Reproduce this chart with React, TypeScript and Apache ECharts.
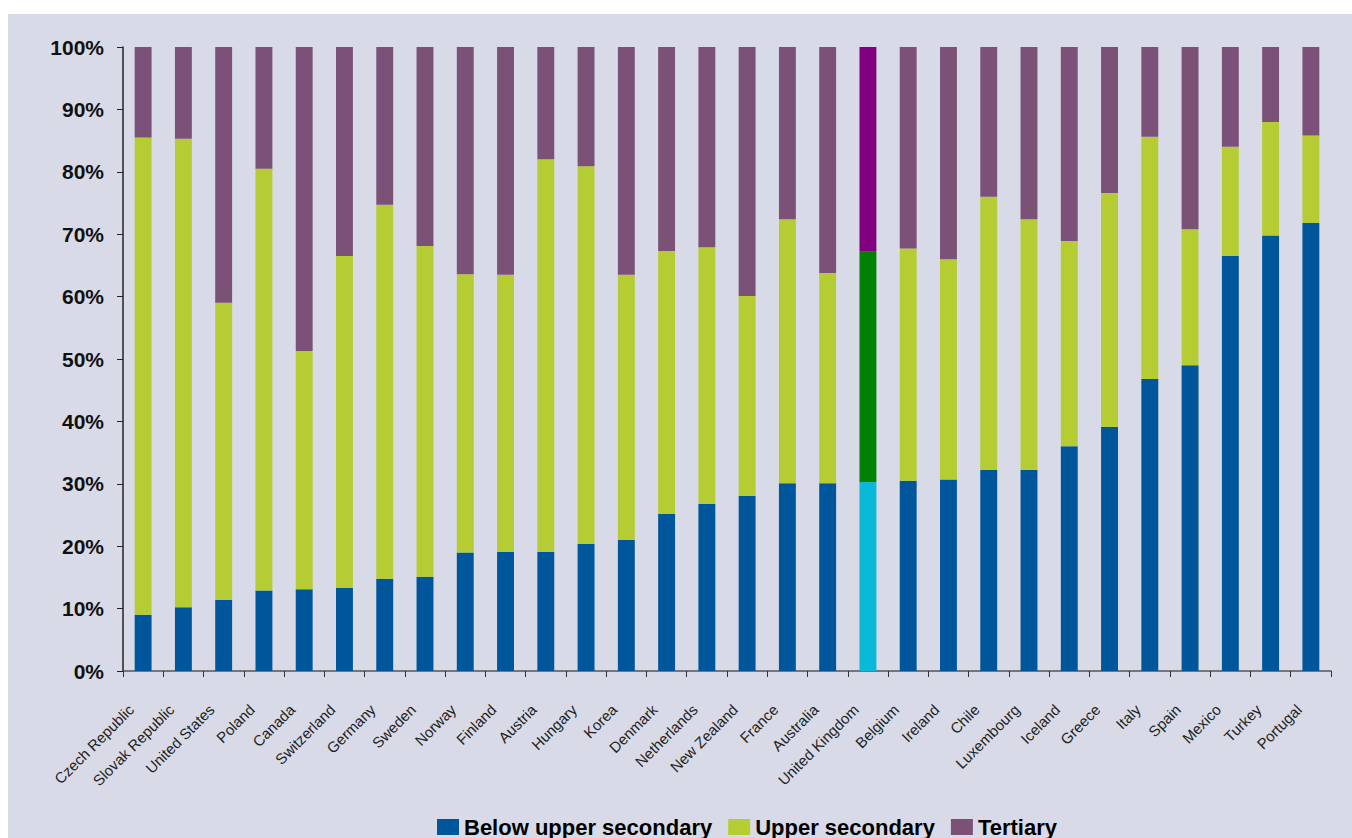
import React, { useEffect, useRef } from "react";
import * as echarts from "echarts";

const countries = [
  "Czech Republic", "Slovak Republic", "United States", "Poland", "Canada", "Switzerland",
  "Germany", "Sweden", "Norway", "Finland", "Austria", "Hungary", "Korea", "Denmark",
  "Netherlands", "New Zealand", "France", "Australia", "United Kingdom", "Belgium",
  "Ireland", "Chile", "Luxembourg", "Iceland", "Greece", "Italy", "Spain", "Mexico",
  "Turkey", "Portugal",
];

// share below upper secondary (%)
const belowUpperSecondary = [
  9.0, 10.2, 11.4, 12.9, 13.1, 13.3, 14.8, 15.1, 19.0, 19.1, 19.1, 20.4, 21.0, 25.2,
  26.8, 28.1, 30.1, 30.1, 30.3, 30.5, 30.7, 32.2, 32.2, 36.0, 39.1, 46.8, 49.0, 66.5,
  69.8, 71.8,
];

// share upper secondary (%)
const upperSecondary = [
  76.5, 75.1, 47.6, 67.6, 38.2, 53.2, 59.9, 53.0, 44.6, 44.4, 62.9, 60.5, 42.5, 42.1,
  41.1, 32.0, 42.3, 33.7, 36.9, 37.2, 35.3, 43.8, 40.2, 32.9, 37.5, 38.8, 21.8, 17.5,
  18.2, 14.0,
];

// share tertiary (%)
const tertiary = [
  14.5, 14.7, 41.0, 19.5, 48.7, 33.5, 25.3, 31.9, 36.4, 36.5, 18.0, 19.1, 36.5, 32.7,
  32.1, 39.9, 27.6, 36.2, 32.8, 32.3, 34.0, 24.0, 27.6, 31.1, 23.4, 14.4, 29.2, 16.0,
  12.0, 14.2,
];

const yTicks = [0, 10, 20, 30, 40, 50, 60, 70, 80, 90, 100];

const seriesNames = ["Below upper secondary", "Upper secondary", "Tertiary"];
const seriesColors = ["#00569a", "#b5cc32", "#7b5178"];
const highlightCountry = "United Kingdom";
const highlightColors = ["#0ab8d8", "#008000", "#800080"];

export default function App() {
  const ref = useRef<HTMLDivElement>(null);

  useEffect(() => {
    if (!ref.current) return;
    const chart = echarts.init(ref.current, null, { renderer: "svg" });
    const datasets = [belowUpperSecondary, upperSecondary, tertiary];
    const font = "Liberation Sans, Arial, sans-serif";
    chart.setOption({
      animation: false,
      backgroundColor: "#d8dbe7",
      textStyle: { fontFamily: font },
      grid: { left: 115, right: 21, top: 33, bottom: 167, containLabel: false },
      legend: {
        left: 429,
        top: 802,
        padding: 0,
        itemWidth: 22,
        itemHeight: 16,
        itemGap: 16,
        icon: "rect",
        textStyle: { fontSize: 22, fontWeight: "bold", color: "#000", fontFamily: font },
        data: seriesNames,
      },
      xAxis: {
        type: "category",
        data: countries,
        axisLine: { lineStyle: { color: "#555", width: 1.5 } },
        axisTick: { show: true, length: 6, lineStyle: { color: "#333" } },
        axisLabel: {
          interval: 0,
          rotate: 45,
          fontSize: 15,
          color: "#222",
          margin: 24,
          padding: [0, 17, 0, 0],
          fontFamily: font,
        },
      },
      yAxis: {
        type: "value",
        min: 0,
        max: 100,
        interval: 10,
        splitLine: { show: false },
        axisLine: { show: true, lineStyle: { color: "#222", width: 1.5 } },
        axisTick: { show: true, length: 6, lineStyle: { color: "#222" } },
        axisLabel: {
          fontSize: 21,
          fontWeight: "bold",
          color: "#111",
          margin: 19,
          formatter: (v: number) => (yTicks.includes(v) ? `${v}%` : ""),
        },
      },
      series: datasets.map((vals, si) => ({
        name: seriesNames[si],
        type: "bar",
        stack: "total",
        barWidth: "42%",
        itemStyle: { color: seriesColors[si] },
        data: vals.map((v, i) =>
          countries[i] === highlightCountry
            ? { value: v, itemStyle: { color: highlightColors[si] } }
            : v
        ),
      })),
    });
    return () => chart.dispose();
  }, []);

  return (
    <div
      ref={ref}
      style={{ position: "absolute", left: 8, top: 14, width: 1344, height: 824 }}
    />
  );
}
